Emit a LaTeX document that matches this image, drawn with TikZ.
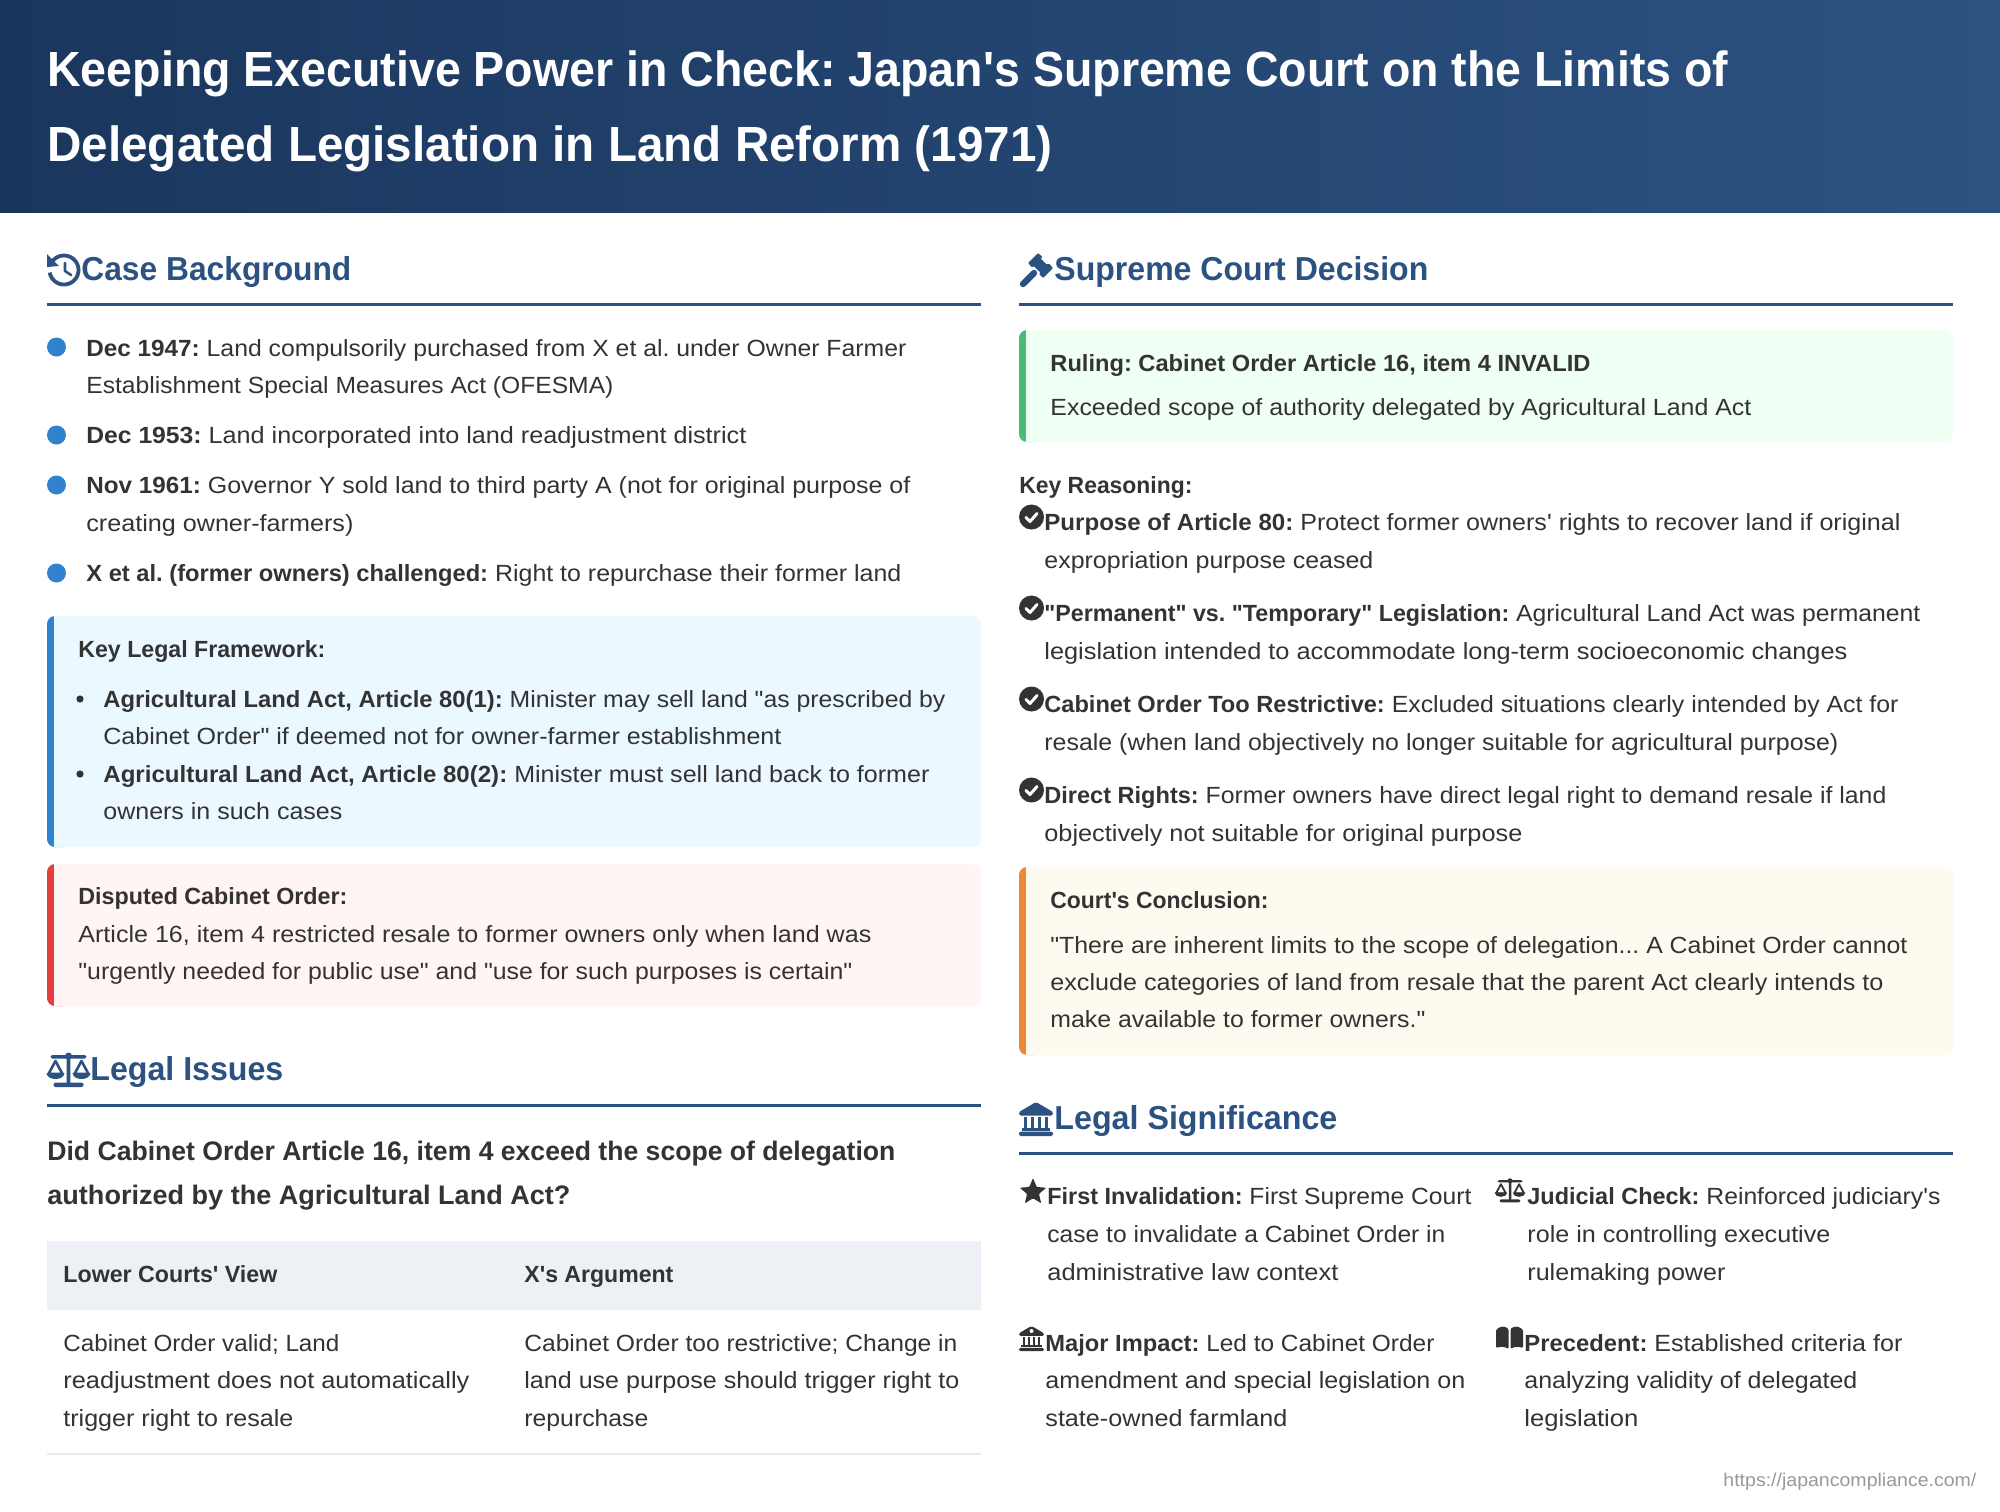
\documentclass[tikz,border=0pt]{standalone}
\usepackage{fontspec}
\usepackage{graphicx}
\setmainfont{Liberation Sans}[Ligatures=TeXOff]
\usetikzlibrary{shapes.geometric}
\definecolor{hdA}{HTML}{1A365D}
\definecolor{hdB}{HTML}{2C5282}
\definecolor{bodyc}{HTML}{333333}
\definecolor{dotc}{HTML}{3182CE}
\definecolor{blueF}{HTML}{EBF8FF}
\definecolor{redF}{HTML}{FFF5F5}
\definecolor{redB}{HTML}{E53E3E}
\definecolor{greenF}{HTML}{F0FFF4}
\definecolor{greenB}{HTML}{48BB78}
\definecolor{yelF}{HTML}{FFFAF0}
\definecolor{yelB}{HTML}{ED8936}
\definecolor{tabF}{HTML}{EDF0F5}
\definecolor{tabL}{HTML}{E8E8EE}
\definecolor{footc}{HTML}{999999}
\tikzset{
  bodytext/.style={text=bodyc,font=\fontsize{11.7}{14}\selectfont},
  titletext/.style={text=white,font=\fontsize{24.7}{28}\bfseries\selectfont},
  headtext/.style={text=hdB,font=\fontsize{16.6}{20}\bfseries\selectfont},
  asktext/.style={text=bodyc,font=\fontsize{13.4}{16}\bfseries\selectfont},
  foottext/.style={text=footc,font=\fontsize{9.2}{11}\selectfont},
  headrule/.style={draw=hdB,line width=1.5pt},
}
\newdimen\tlw
\newcommand\tl[6][bodytext]{\tlw=\dimexpr 0.5pt*\numexpr#5-#3\relax\relax
  \node[#1,anchor=base west,inner sep=0pt] (#2) at (#3,#4) {\resizebox{\tlw}{\height}{#6}};}
\newcommand\bd[2][0.95]{\scalebox{#1}[1]{\textbf{#2}}}
\newcommand\accbox[7]{%
  \fill[#7,rounded corners=4pt] (#1,#2) rectangle (#1+24,#4);
  \fill[#5,rounded corners=4pt] (#1+7,#2) [sharp corners] -- (#1+7,#2) [rounded corners=4pt] -- (#3,#2) -- (#3,#4) [sharp corners] -- (#1+7,#4) -- cycle;}
% icons: origin at centre, coordinates in px
\newcommand\icoScales[4]{\begin{scope}[shift={(#1,#2)},scale=#3]
  \fill[#4,rounded corners=.6pt] (-1.8,-14) rectangle (1.8,14);
  \fill[#4,rounded corners=.8pt] (-15,12.5) rectangle (15,17);
  \fill[#4,rounded corners=.8pt] (-18,-15) rectangle (18,-11.5);
  \fill[#4] (0,-14) circle (3.5);
  \foreach \s in {-1,1}{
    \draw[#4,line width=1.3pt*#3,line join=round] (\s*13,-9) -- (\s*20,4) -- (\s*6,4) -- cycle;
    \fill[#4] (\s*22,3) .. controls (\s*21.5,11) and (\s*4.5,11) .. (\s*4,3) -- cycle;
  }
\end{scope}}
\newcommand\icoBank[4]{\begin{scope}[shift={(#1,#2)},scale=#3]
  \fill[#4,rounded corners=.8pt] (-17,-7) -- (0,-17) -- (17,-7) -- (17,-3.5) -- (-17,-3.5) -- cycle;
  \foreach \c in {-10.5,-3.5,3.5,10.5}{\fill[#4] (\c-1.6,-2) rectangle (\c+1.6,9);}
  \fill[#4] (-14,9) rectangle (14,12);
  \fill[#4,rounded corners=.8pt] (-17,12.5) rectangle (17,17);
\end{scope}}
\newcommand\icoCheck[3]{\fill[bodyc] (#1,#2) circle (12.5);
  \draw[white,line width=1.5pt,line cap=round,line join=round] (#1-5.5,#2+.5) -- (#1-1.5,#2+4.5) -- (#1+5.5,#2-3.5);}
\begin{document}
\frenchspacing
\begin{tikzpicture}[x=0.5pt,y=-0.5pt]
\useasboundingbox (0,0) rectangle (2000,1511);
\fill[white] (0,0) rectangle (2000,1511);
\shade[left color=hdA,right color=hdB] (0,0) rectangle (2000,212);
\tl[titletext]{t1}{47}{86}{1728}{Keeping Executive Power in Check: Japan's Supreme Court on the Limits of}
\tl[titletext]{t2}{47}{161}{1052}{Delegated Legislation in Land Reform (1971)}
% ---- Case Background
\draw[hdB,line width=1.9pt] plot[domain=-150:170,samples=40] ({64+cos(\x)*14.5},{270+sin(\x)*14.5});
\fill[hdB] (47,254) -- (47,267) -- (59,266) -- cycle;
\draw[hdB,line width=1.3pt,line cap=round,line join=round] (65,263) -- (65,271) -- (71,275);
\tl[headtext]{h1}{81}{280}{351}{Case Background}
\draw[headrule] (47,304) -- (981,304);
\foreach \yy in {347,435,485,573}{\fill[dotc] (56.5,\yy) circle (9.5);}
\tl{b1a}{86}{356}{906}{\bd[.98]{Dec 1947:} Land compulsorily purchased from X et al. under Owner Farmer}
\tl{b1b}{86}{393}{613}{Establishment Special Measures Act (OFESMA)}
\tl{b2}{86}{443}{746}{\bd[.98]{Dec 1953:} Land incorporated into land readjustment district}
\tl{b3a}{86}{493}{910}{\bd[.97]{Nov 1961:} Governor Y sold land to third party A (not for original purpose of}
\tl{b3b}{86}{531}{353}{creating owner-farmers)}
\tl{b4}{86}{581}{901}{\bd{X et al. (former owners) challenged:} Right to repurchase their former land}
% ---- Blue box
\accbox{47}{616}{981}{847}{blueF}{}{dotc}
\tl{f0}{78}{657}{325}{\textbf{Key Legal Framework:}}
\fill[bodyc] (80,699) circle (3.6);
\fill[bodyc] (80,774) circle (3.6);
\tl{f1a}{103}{707}{945}{\bd[.96]{Agricultural Land Act, Article 80(1):} Minister may sell land "as prescribed by}
\tl{f1b}{103}{744}{781}{Cabinet Order" if deemed not for owner-farmer establishment}
\tl{f2a}{103}{782}{929}{\bd[.96]{Agricultural Land Act, Article 80(2):} Minister must sell land back to former}
\tl{f2b}{103}{819}{342}{owners in such cases}
% ---- Red box
\accbox{47}{864}{981}{1006}{redF}{}{redB}
\tl{r0}{78}{904}{347}{\textbf{Disputed Cabinet Order:}}
\tl{r1}{78}{942}{871}{Article 16, item 4 restricted resale to former owners only when land was}
\tl{r2}{78}{979}{852}{"urgently needed for public use" and "use for such purposes is certain"}
% ---- Legal Issues
\icoScales{68.5}{1070}{1}{hdB}
\tl[headtext]{h2}{90}{1080}{283}{Legal Issues}
\draw[headrule] (47,1105) -- (981,1105);
\tl[asktext]{q1}{47}{1160}{895}{Did Cabinet Order Article 16, item 4 exceed the scope of delegation}
\tl[asktext]{q2}{47}{1204}{570}{authorized by the Agricultural Land Act?}
\fill[tabF] (47,1241) rectangle (981,1310);
\tl{c1}{63}{1282}{277}{\textbf{Lower Courts' View}}
\tl{c2}{524}{1282}{673}{\textbf{X's Argument}}
\tl{c3}{63}{1351}{339}{Cabinet Order valid; Land}
\tl{c4}{63}{1388}{469}{readjustment does not automatically}
\tl{c5}{63}{1426}{293}{trigger right to resale}
\tl{c6}{524}{1351}{957}{Cabinet Order too restrictive; Change in}
\tl{c7}{524}{1388}{959}{land use purpose should trigger right to}
\tl{c8}{524}{1426}{648}{repurchase}
\draw[tabL,line width=.8pt] (47,1454) -- (981,1454);
% ---- Supreme Court Decision
\fill[hdB,rounded corners=.4pt] (1038,253) -- (1042.5,257) -- (1040.6,258.6) -- (1047,264.8) -- (1048.6,263.2) -- (1053,268) -- (1043,278) -- (1039,274) -- (1040.4,272.6) -- (1033.6,266) -- (1032.2,267.6) -- (1028,263) -- cycle;
\draw[hdB,line width=3.2pt,line cap=round] (1023,284) -- (1034,273);
\tl[headtext]{h3}{1054}{280}{1428}{Supreme Court Decision}
\draw[headrule] (1019,304) -- (1953,304);
\accbox{1019}{330}{1953}{442}{greenF}{}{greenB}
\tl{g1}{1050}{371}{1590}{\textbf{Ruling: Cabinet Order Article 16, item 4 INVALID}}
\tl{g2}{1050}{415}{1751}{Exceeded scope of authority delegated by Agricultural Land Act}
\tl{k0}{1019}{493}{1192}{\textbf{Key Reasoning:}}
\icoCheck{1031.5}{517}{}
\icoCheck{1031.5}{608}{}
\icoCheck{1031.5}{699}{}
\icoCheck{1031.5}{790}{}
\tl{k1a}{1044}{530}{1900}{\bd[.96]{Purpose of Article 80:} Protect former owners' rights to recover land if original}
\tl{k1b}{1044}{568}{1373}{expropriation purpose ceased}
\tl{k2a}{1044}{621}{1920}{\bd[.94]{"Permanent" vs. "Temporary" Legislation:} Agricultural Land Act was permanent}
\tl{k2b}{1044}{659}{1847}{legislation intended to accommodate long-term socioeconomic changes}
\tl{k3a}{1044}{712}{1898}{\bd{Cabinet Order Too Restrictive:} Excluded situations clearly intended by Act for}
\tl{k3b}{1044}{750}{1838}{resale (when land objectively no longer suitable for agricultural purpose)}
\tl{k4a}{1044}{803}{1886}{\bd{Direct Rights:} Former owners have direct legal right to demand resale if land}
\tl{k4b}{1044}{841}{1522}{objectively not suitable for original purpose}
% ---- Yellow box
\accbox{1019}{867}{1953}{1055}{yelF}{}{yelB}
\tl{y0}{1050}{908}{1268}{\textbf{Court's Conclusion:}}
\tl{y1}{1050}{953}{1907}{"There are inherent limits to the scope of delegation... A Cabinet Order cannot}
\tl{y2}{1050}{990}{1883}{exclude categories of land from resale that the parent Act clearly intends to}
\tl{y3}{1050}{1027}{1425}{make available to former owners."}
% ---- Legal Significance
\icoBank{1036}{1119}{1}{hdB}
\tl[headtext]{h4}{1054}{1129}{1337}{Legal Significance}
\draw[headrule] (1019,1153) -- (1953,1153);
\node[star,star points=5,star point ratio=2.25,fill=bodyc,inner sep=0pt,minimum size=14pt,rounded corners=.5pt,draw=none] (starico) at (1033,1192) {};
\tl{s1a}{1047}{1204}{1471}{\bd{First Invalidation:} First Supreme Court}
\tl{s1b}{1047}{1242}{1445}{case to invalidate a Cabinet Order in}
\tl{s1c}{1047}{1280}{1338}{administrative law context}
\icoScales{1510}{1190.5}{.7}{bodyc}
\tl{s2a}{1527}{1204}{1940}{\bd{Judicial Check:} Reinforced judiciary's}
\tl{s2b}{1527}{1242}{1830}{role in controlling executive}
\tl{s2c}{1527}{1280}{1725}{rulemaking power}
\icoBank{1031.5}{1338.5}{.74}{bodyc}
\fill[white] (1031.5,1331) circle (2);
\tl{s3a}{1045}{1351}{1434}{\bd[.97]{Major Impact:} Led to Cabinet Order}
\tl{s3b}{1045}{1388}{1465}{amendment and special legislation on}
\tl{s3c}{1045}{1426}{1287}{state-owned farmland}
\fill[bodyc,rounded corners=.6pt] (1496,1330) .. controls (1500,1326) and (1505,1326) .. (1508.5,1329) -- (1508.5,1349) .. controls (1505,1346.5) and (1500,1346.5) .. (1496,1348) -- cycle;
\fill[bodyc,rounded corners=.6pt] (1523,1330) .. controls (1519,1326) and (1514,1326) .. (1510.5,1329) -- (1510.5,1349) .. controls (1514,1346.5) and (1519,1346.5) .. (1523,1348) -- cycle;
\tl{s4a}{1524}{1351}{1902}{\bd{Precedent:} Established criteria for}
\tl{s4b}{1524}{1388}{1857}{analyzing validity of delegated}
\tl{s4c}{1524}{1426}{1638}{legislation}
\tl[foottext]{ft}{1723}{1486}{1976}{https://japancompliance.com/}
\end{tikzpicture}
\end{document}
